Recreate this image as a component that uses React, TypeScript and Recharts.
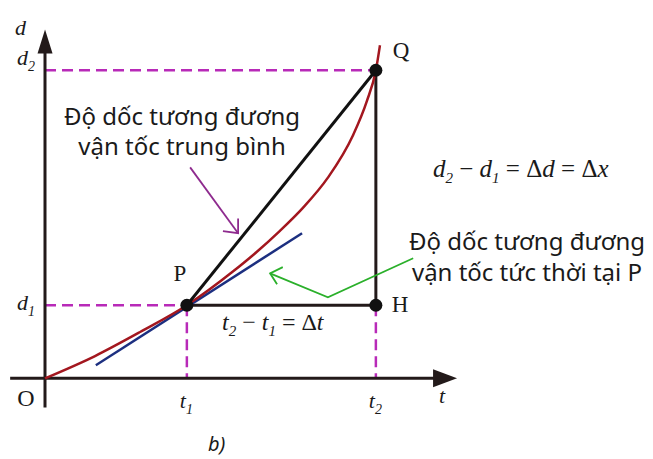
import React from "react";
import { ComposedChart, XAxis, YAxis, Line, Scatter, ReferenceDot } from "recharts";

// distance–time curve, read along the drawn path
const curveT = [0, 1.22, 2.32, 3.46, 4.59, 5.12, 5.73, 6.29, 6.9, 7.51, 7.85, 8.07, 8.17];
const curveD = [0, 0.65, 1.35, 2.13, 3.12, 3.64, 4.3, 4.97, 5.85, 7.08, 8.08, 8.98, 9.71];

// the two instants and their distances
const t1 = 3.46;
const t2 = 8.07;
const d1 = 2.13;
const d2 = 8.98;

// tangent at P
const tangentT = [1.24, 6.27];
const tangentD = [0.38, 4.23];

// axes (with a little overshoot past the origin)
const tAxisT = [-0.85, 9.6];
const dAxisD = [-0.85, 9.7];
const tArrowTip = 10.05;
const dArrowTip = 10.17;

// pointer arrows for the two notes
const avgShaft = [[3.54, 6.15], [4.71, 4.23]];
const avgHead = [[4.71, 4.66], [4.71, 4.23], [4.34, 4.29]];
const instShaft = [[8.98, 3.5], [6.9, 2.36], [5.49, 3.06]];
const instHead = [[5.8, 3.24], [5.49, 3.06], [5.66, 2.74]];

const pts = (arr: number[][]) => arr.map(([t, d]) => ({ t, d }));

const curve = curveT.map((t, i) => ({ t, d: curveD[i] }));
const tangent = tangentT.map((t, i) => ({ t, d: tangentD[i] }));
const P = { t: t1, d: d1 };
const Q = { t: t2, d: d2 };
const H = { t: t2, d: d1 };

const AXIS = "#231a1a";
const DASH = "#b82ab8";
const SERIF = "'Liberation Serif', 'Times New Roman', serif";
const SANS = "'Noto Sans', sans-serif";

const mathStyle: React.CSSProperties = { fontFamily: SERIF, fontStyle: "italic", fontSize: 22, fill: "#1a1a1a" };
const pointStyle: React.CSSProperties = { fontFamily: SERIF, fontSize: 23, fill: "#1a1a1a" };
const noteStyle: React.CSSProperties = { fontFamily: SANS, fontSize: 24, fill: "#1a1a1a" };

// text anchored at a data point, shifted by a few pixels
const tag = (key: string, t: number, d: number, render: (x: number, y: number) => React.ReactNode) => (
  <ReferenceDot
    key={key}
    x={t}
    y={d}
    r={1}
    fill="none"
    stroke="none"
    ifOverflow="visible"
    label={(p: any) => {
      const vb = p.viewBox || { x: 0, y: 0, width: 0, height: 0 };
      return <g>{render(vb.x + (vb.width || 0) / 2, vb.y + (vb.height || 0) / 2)}</g>;
    }}
  />
);

const arrowShape = (dir: "right" | "up") => (props: any) => {
  const { cx, cy } = props;
  const pts =
    dir === "right"
      ? `${cx},${cy} ${cx - 24},${cy - 9} ${cx - 24},${cy + 9}`
      : `${cx},${cy} ${cx - 7.5},${cy + 24} ${cx + 7.5},${cy + 24}`;
  return <polygon points={pts} fill={AXIS} />;
};

const dotShape = (props: any) => <circle cx={props.cx} cy={props.cy} r={6.5} fill="#111" />;

const seg = (key: string, data: { t: number; d: number }[], stroke: string, width: number, dash?: string) => (
  <Line
    key={key}
    data={data}
    dataKey="d"
    type="linear"
    stroke={stroke}
    strokeWidth={width}
    strokeDasharray={dash}
    dot={false}
    activeDot={false}
    isAnimationActive={false}
  />
);

export default function App() {
  return (
    <div style={{ position: "absolute", left: 0, top: 0, width: 653, height: 459, background: "#fff" }}>
      <ComposedChart width={653} height={459} margin={{ top: 25, right: 189.8, bottom: 46.4, left: 4 }}>
        <XAxis type="number" dataKey="t" domain={[-1, 10.2]} allowDataOverflow hide />
        <YAxis type="number" dataKey="d" domain={[-1, 10.3]} allowDataOverflow hide />

        {seg("dash-d2", [{ t: 0, d: d2 }, Q], DASH, 2.5, "11 6")}
        {seg("dash-d1", [{ t: 0, d: d1 }, P], DASH, 2.5, "11 6")}
        {seg("dash-t1", [P, { t: t1, d: 0 }], DASH, 2.5, "11 6")}
        {seg("dash-t2", [H, { t: t2, d: 0 }], DASH, 2.5, "11 6")}

        {seg("t-axis", tAxisT.map((t) => ({ t, d: 0 })), AXIS, 3)}
        {seg("d-axis", dAxisD.map((d) => ({ t: 0, d })), AXIS, 3)}
        <Scatter data={[{ t: tArrowTip, d: 0 }]} dataKey="d" shape={arrowShape("right")} isAnimationActive={false} />
        <Scatter data={[{ t: 0, d: dArrowTip }]} dataKey="d" shape={arrowShape("up")} isAnimationActive={false} />

        {seg("ph-hq", [P, H, Q], AXIS, 3)}
        {seg("tangent", tangent, "#1c2f80", 2.5)}
        <Line data={curve} dataKey="d" type="monotone" stroke="#a3171f" strokeWidth={2.5} dot={false} activeDot={false} isAnimationActive={false} />
        {seg("secant", [P, Q], "#111", 3)}

        {seg("avg-shaft", pts(avgShaft), "#8e2a8e", 1.8)}
        {seg("avg-head", pts(avgHead), "#8e2a8e", 1.8)}
        {seg("inst-shaft", pts(instShaft), "#2bb02b", 1.8)}
        {seg("inst-head", pts(instHead), "#2bb02b", 1.8)}

        <Scatter data={[P, Q, H]} dataKey="d" shape={dotShape} isAnimationActive={false} />

        {tag("O", 0, 0, (x, y) => (
          <text x={x - 19} y={y + 28} textAnchor="middle" style={{ ...pointStyle, fontSize: 24 }}>O</text>
        ))}
        {tag("P", t1, d1, (x, y) => (
          <text x={x - 7} y={y - 24} textAnchor="middle" style={pointStyle}>P</text>
        ))}
        {tag("Q", t2, d2, (x, y) => (
          <text x={x + 17} y={y - 12} style={pointStyle}>Q</text>
        ))}
        {tag("H", t2, d1, (x, y) => (
          <text x={x + 16} y={y + 7} style={pointStyle}>H</text>
        ))}
        {tag("t1", t1, 0, (x, y) => (
          <text x={x - 7} y={y + 30} style={mathStyle}>t<tspan dy={6} fontSize={14}>1</tspan></text>
        ))}
        {tag("t2", t2, 0, (x, y) => (
          <text x={x - 7} y={y + 30} style={mathStyle}>t<tspan dy={6} fontSize={14}>2</tspan></text>
        ))}
        {tag("d1", 0, d1, (x, y) => (
          <text x={x - 28} y={y + 5} style={mathStyle}>d<tspan dy={6} fontSize={14}>1</tspan></text>
        ))}
        {tag("d2", 0, d2, (x, y) => (
          <text x={x - 28} y={y - 5} style={mathStyle}>d<tspan dy={6} fontSize={14}>2</tspan></text>
        ))}
      </ComposedChart>

      <svg width={653} height={459} style={{ position: "absolute", left: 0, top: 0, pointerEvents: "none" }}>
        <text x={15} y={35} style={mathStyle}>d</text>
        <text x={439} y={403} style={mathStyle}>t</text>

        <text x={182} y={125} textAnchor="middle" style={noteStyle}>Độ dốc tương đương</text>
        <text x={182} y={155} textAnchor="middle" style={noteStyle}>vận tốc trung bình</text>

        <text x={527} y={250} textAnchor="middle" style={noteStyle}>Độ dốc tương đương</text>
        <text x={527} y={281} textAnchor="middle" style={noteStyle}>vận tốc tức thời tại P</text>

        <text x={433} y={177} style={{ ...mathStyle, fontSize: 25 }}>
          d<tspan dy={6} fontSize={15}>2</tspan>
          <tspan dy={-6} fontStyle="normal"> − </tspan>d<tspan dy={6} fontSize={15}>1</tspan>
          <tspan dy={-6} fontStyle="normal"> = Δ</tspan>d
          <tspan fontStyle="normal"> = Δ</tspan>x
        </text>

        <text x={222} y={330} style={{ ...mathStyle, fontSize: 24 }}>
          t<tspan dy={6} fontSize={15}>2</tspan>
          <tspan dy={-6} fontStyle="normal"> − </tspan>t<tspan dy={6} fontSize={15}>1</tspan>
          <tspan dy={-6} fontStyle="normal"> = Δ</tspan>t
        </text>

        <text x={208} y={451} style={{ fontFamily: SANS, fontStyle: "italic", fontSize: 20, fill: "#1a1a1a" }}>b)</text>
      </svg>
    </div>
  );
}
